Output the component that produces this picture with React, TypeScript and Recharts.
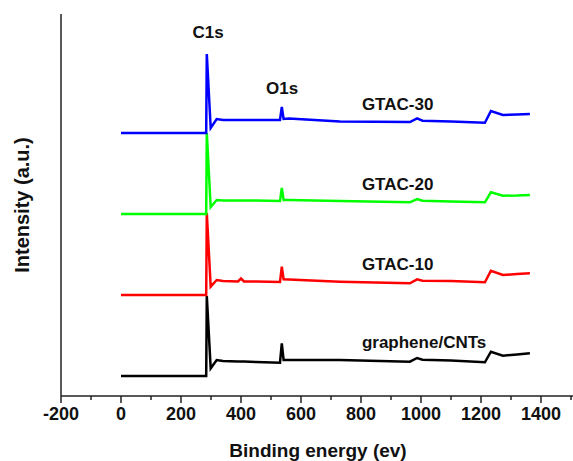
import { LineChart, Line, XAxis, YAxis, ReferenceDot, Label } from 'recharts';

// binding energy (eV) sampled along the survey scans
const energy = [0, 280, 284, 286, 299, 319, 340, 390, 400, 410, 450, 530, 536, 542, 560, 730, 963, 987, 1005, 1100, 1213, 1233, 1273, 1320, 1363];

// stacked intensities (a.u.)
const grapheneCNTs = [20, 20, 20, 100, 27.7, 36, 35, 34.5, 34.5, 34.5, 34, 33.3, 52.7, 36, 36, 36, 34.3, 38, 36.3, 35.5, 33.7, 44.3, 40.3, 41.5, 42.7];
const gtac10 = [101, 101, 101, 183, 109.3, 116, 115, 114.5, 117.5, 114.5, 114.5, 114, 129.3, 116.7, 116.5, 114.3, 112.7, 116.7, 115.3, 115, 113.7, 125.3, 121, 122, 122.7];
const gtac20 = [182, 182, 182, 263, 189, 196, 195.5, 195.5, 195.5, 195.5, 195.5, 195, 208, 196, 196, 195, 193.7, 197, 195.3, 194.5, 193.7, 203.7, 200.3, 200.5, 201];
const gtac30 = [263, 263, 263, 342, 268, 277, 276, 276, 276, 276, 276, 276, 289, 277, 277.5, 274.5, 274, 277.7, 275.3, 274.5, 273.3, 285, 281, 281.5, 282];

const xTicks = [-200, -100, 0, 100, 200, 300, 400, 500, 600, 700, 800, 900, 1000, 1100, 1200, 1300, 1400, 1500];

const seriesNames = ['graphene/CNTs', 'GTAC-10', 'GTAC-20', 'GTAC-30'];
const seriesColors = ['#000000', '#ff0000', '#00ff00', '#0000ff'];

const peakNames = ['C1s', 'O1s'];
const peakEnergy = [290, 537];
const peakIntensity = [357.7, 302];

const curveLabelEnergy = [803, 803, 803, 803];
const curveLabelIntensity = [48, 126, 206, 286];

const FONT = "'Liberation Sans', Arial, sans-serif";

const data = energy.map((e, i) => ({
  energy: e,
  [seriesNames[0]]: grapheneCNTs[i],
  [seriesNames[1]]: gtac10[i],
  [seriesNames[2]]: gtac20[i],
  [seriesNames[3]]: gtac30[i],
}));

function EnergyTick(props: any) {
  const { x, y, payload } = props;
  const major = payload.value % 200 === 0;
  return (
    <g>
      <line x1={x} y1={y} x2={x} y2={y + (major ? 7 : 4)} stroke="#222" strokeWidth={1.5} />
      {major && (
        <text x={x} y={y + 24} textAnchor="middle" fontFamily={FONT} fontWeight="bold" fontSize={18} fill="#111">
          {payload.value}
        </text>
      )}
    </g>
  );
}

const textShape = (txt: string, anchor: string) => (p: any) => (
  <text x={p.cx} y={p.cy} textAnchor={anchor} fontFamily={FONT} fontWeight="bold" fontSize={17} fill="#111">
    {txt}
  </text>
);

export default function App() {
  return (
    <div style={{ position: 'absolute', left: 0, top: 0, width: 573, height: 461, overflow: 'hidden', background: '#fff' }}>
      <LineChart width={601} height={461} data={data} margin={{ top: 14, right: 0, bottom: 0, left: 0 }}>
        <XAxis
          dataKey="energy"
          type="number"
          domain={[-200, 1600]}
          ticks={xTicks}
          interval={0}
          tickLine={false}
          tickSize={0}
          tickMargin={0}
          tick={<EnergyTick />}
          height={65}
          axisLine={{ stroke: '#222', strokeWidth: 1.5 }}
          allowDataOverflow
        >
          <Label
            content={(p: any) => (
              <text x={318} y={p.viewBox.y + 61} textAnchor="middle" fontFamily={FONT} fontWeight="bold" fontSize={19} fill="#111">
                Binding energy (ev)
              </text>
            )}
          />
        </XAxis>
        <XAxis
          xAxisId="top"
          orientation="top"
          dataKey="energy"
          type="number"
          domain={[-200, 1600]}
          height={0}
          tick={false}
          tickLine={false}
          axisLine={{ stroke: '#222', strokeWidth: 1.5 }}
        />
        <YAxis
          type="number"
          domain={[0, 382]}
          width={61}
          tick={false}
          tickLine={false}
          axisLine={{ stroke: '#222', strokeWidth: 1.5 }}
        >
          <Label
            content={(p: any) => {
              const cy = p.viewBox.y + p.viewBox.height / 2;
              return (
                <text
                  x={22}
                  y={cy}
                  transform={`rotate(-90 22 ${cy})`}
                  textAnchor="middle"
                  dominantBaseline="central"
                  fontFamily={FONT}
                  fontWeight="bold"
                  fontSize={20}
                  fill="#111"
                >
                  Intensity (a.u.)
                </text>
              );
            }}
          />
        </YAxis>
        {seriesNames.map((name, i) => (
          <Line
            key={name}
            type="linear"
            dataKey={name}
            stroke={seriesColors[i]}
            strokeWidth={2.5}
            dot={false}
            isAnimationActive={false}
          />
        ))}
        {peakNames.map((name, i) => (
          <ReferenceDot key={name} x={peakEnergy[i]} y={peakIntensity[i]} r={0} shape={textShape(name, 'middle')} />
        ))}
        {seriesNames.map((name, i) => (
          <ReferenceDot key={'l' + name} x={curveLabelEnergy[i]} y={curveLabelIntensity[i]} r={0} shape={textShape(name, 'start')} />
        ))}
      </LineChart>
    </div>
  );
}
